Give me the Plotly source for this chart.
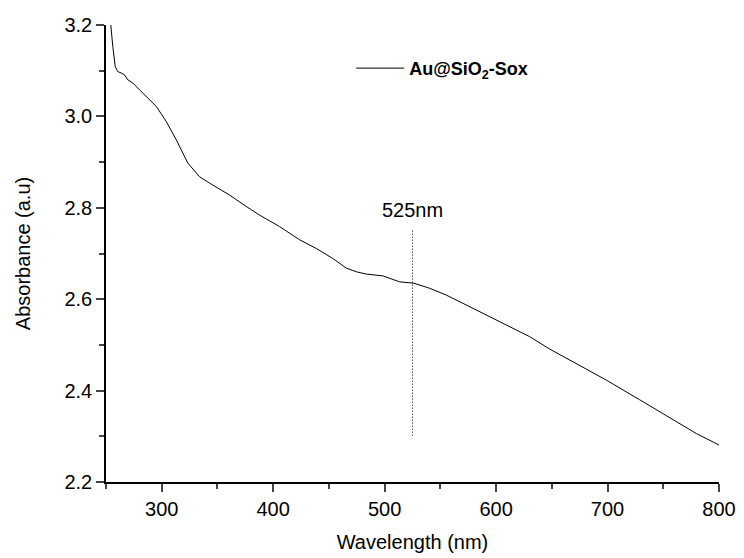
import plotly.graph_objects as go

wavelength = [252, 254.0, 256.1, 258.3, 260.6, 263.6, 266.6, 269.6, 274.1, 280.1, 287.5,
              295.1, 304.0, 313.0, 323.4, 333.9, 342.9, 360.8, 375.8, 387.8, 405.7,
              423.7, 438.7, 453.6, 465.6, 474.6, 483.5, 498.4, 513.4, 526.2, 540.3,
              555.3, 570.2, 585.2, 600.2, 615.1, 630.1, 648.0, 668.9, 698.9, 728.8,
              758.7, 779.7, 800.0]
absorbance = [3.26, 3.201, 3.153, 3.109, 3.098, 3.095, 3.091, 3.080, 3.073, 3.058, 3.040,
              3.022, 2.989, 2.949, 2.898, 2.868, 2.854, 2.828, 2.803, 2.784, 2.759,
              2.730, 2.711, 2.689, 2.668, 2.660, 2.655, 2.651, 2.638, 2.635, 2.624,
              2.609, 2.591, 2.573, 2.554, 2.536, 2.518, 2.491, 2.463, 2.423, 2.380,
              2.336, 2.306, 2.281]

peak_x = [525, 525]
peak_y = [2.75, 2.30]
peak_label = "525nm"
series_name = "<b>Au@SiO<sub>2</sub>-Sox</b>"
x_ticks = [300, 400, 500, 600, 700, 800]
y_ticks = [2.2, 2.4, 2.6, 2.8, 3.0, 3.2]

font = "Liberation Sans, Arial, sans-serif"

fig = go.Figure()
fig.add_trace(go.Scatter(x=wavelength, y=absorbance, mode="lines",
                         line=dict(color="black", width=1), name=series_name,
                         showlegend=True))
fig.add_trace(go.Scatter(x=peak_x, y=peak_y, mode="lines",
                         line=dict(color="black", width=1, dash="1px,2px"),
                         showlegend=False, hoverinfo="skip"))
fig.add_annotation(x=525, y=2.795, text=peak_label, showarrow=False,
                   font=dict(size=20, color="black", family=font))

fig.update_layout(
    width=744, height=558,
    margin=dict(l=106, r=25, t=25, b=76),
    plot_bgcolor="white", paper_bgcolor="white",
    font=dict(family=font, size=20, color="black"),
    legend=dict(x=0.40, y=0.905, xanchor="left", yanchor="middle",
                bgcolor="rgba(0,0,0,0)", itemwidth=48,
                font=dict(size=18, family=font, color="black")),
    xaxis=dict(range=[250, 800], tickvals=x_ticks, ticks="outside", ticklen=8,
               tickwidth=1.5, linecolor="black", linewidth=1.5, showgrid=False,
               zeroline=False, showline=True, tickfont=dict(size=20), automargin=False,
               minor=dict(dtick=50, tick0=250, ticks="outside", ticklen=5, tickwidth=1.5),
               title=dict(text="Wavelength (nm)", font=dict(size=20), standoff=16)),
    yaxis=dict(range=[2.2, 3.2], tickvals=y_ticks, tickformat=".1f", ticks="outside",
               ticklen=8, tickwidth=1.5, linecolor="black", linewidth=1.5,
               showgrid=False, zeroline=False, showline=True, tickfont=dict(size=20),
               minor=dict(dtick=0.1, tick0=2.2, ticks="outside", ticklen=5, tickwidth=1.5),
               title=dict(text="Absorbance (a.u)", font=dict(size=20), standoff=28)),
)

fig.write_html("out.html")
